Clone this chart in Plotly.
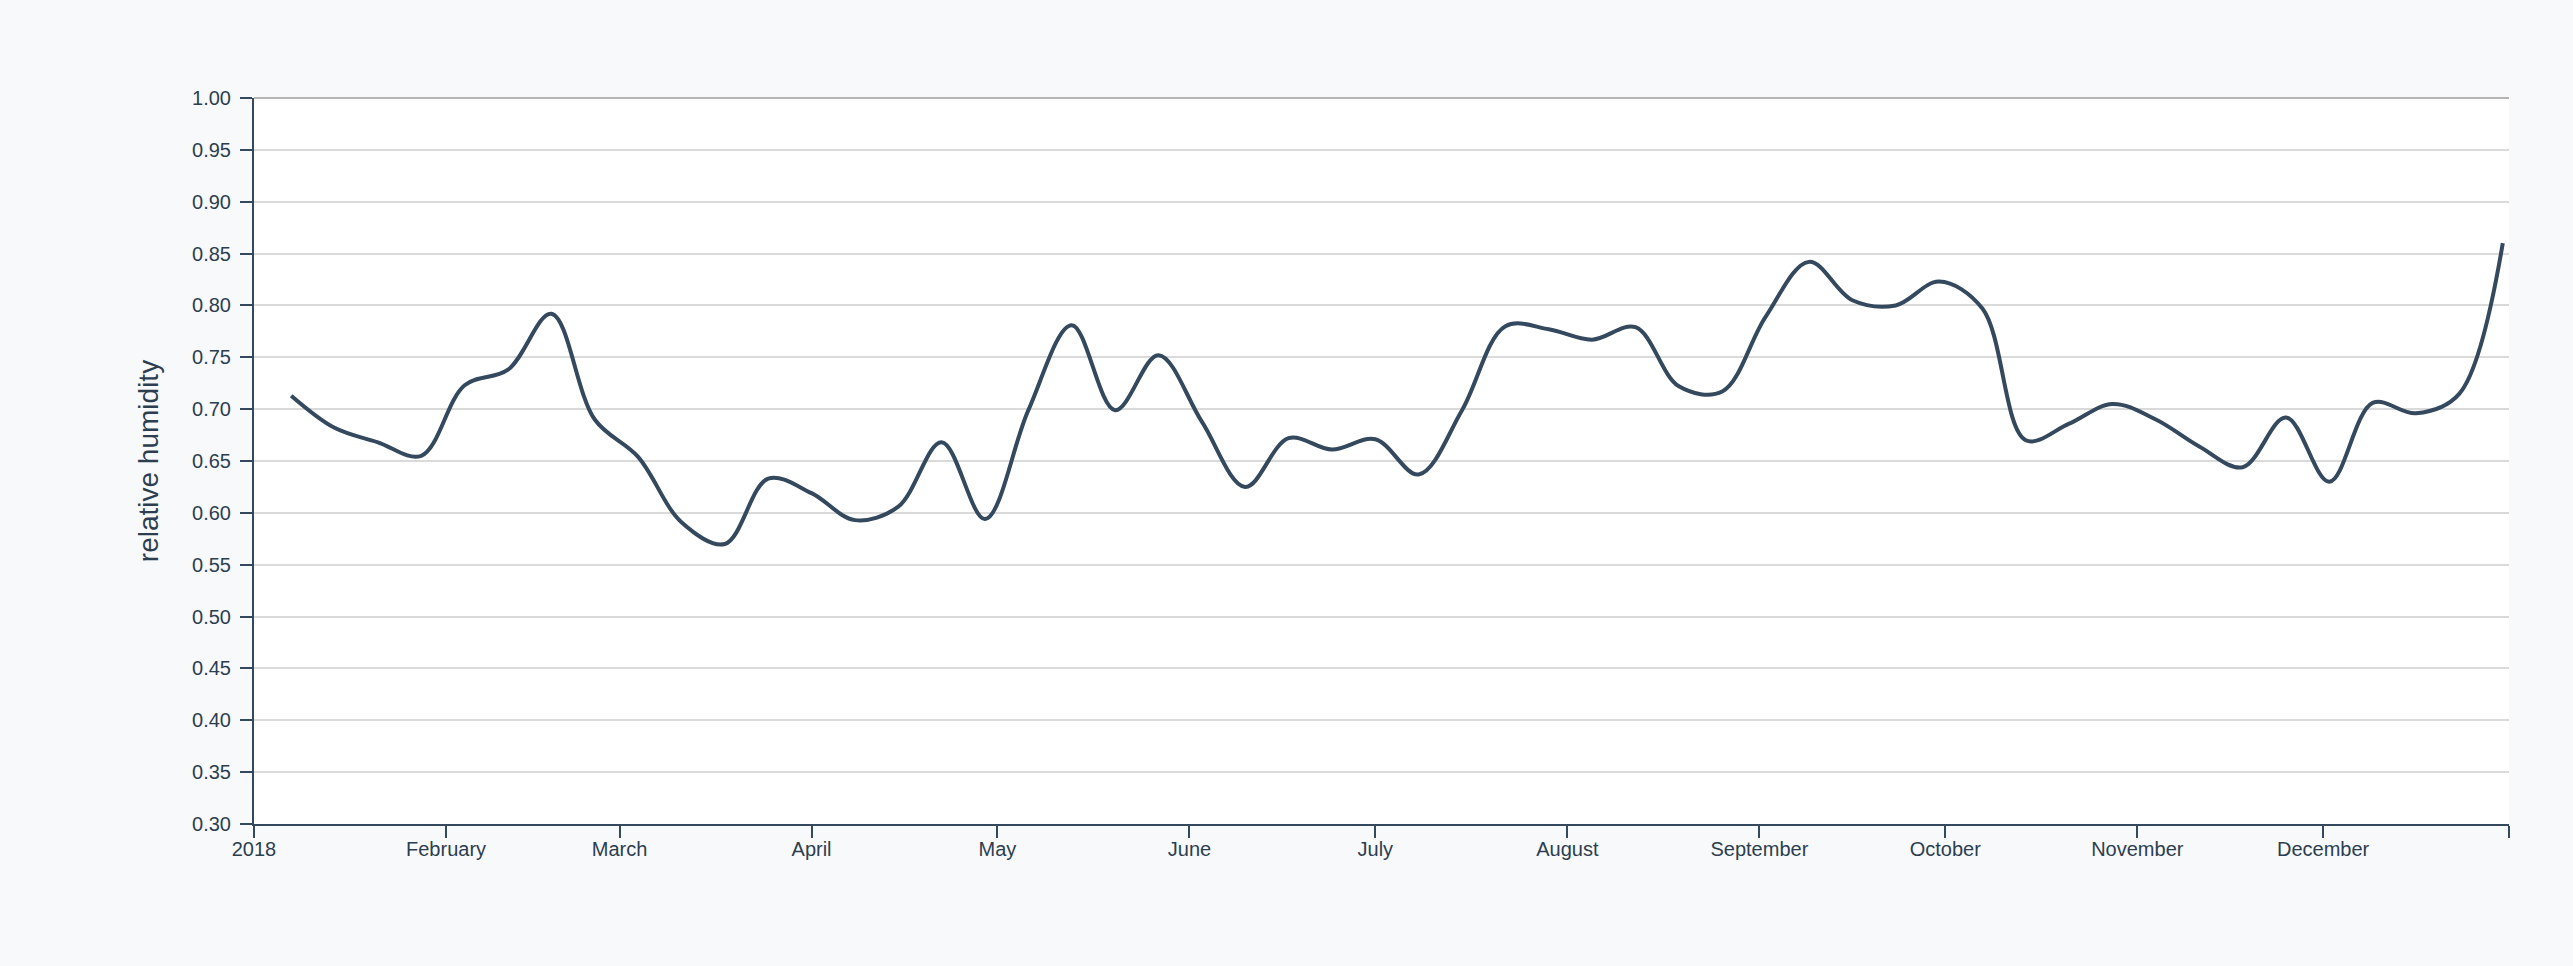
import plotly.graph_objects as go

# weekly relative humidity, 2018
dates = [
    "2018-01-07", "2018-01-14", "2018-01-21", "2018-01-28",
    "2018-02-04", "2018-02-11", "2018-02-18", "2018-02-25",
    "2018-03-04", "2018-03-11", "2018-03-18", "2018-03-25",
    "2018-04-01", "2018-04-08", "2018-04-15", "2018-04-22", "2018-04-29",
    "2018-05-06", "2018-05-13", "2018-05-20", "2018-05-27",
    "2018-06-03", "2018-06-10", "2018-06-17", "2018-06-24",
    "2018-07-01", "2018-07-08", "2018-07-15", "2018-07-22", "2018-07-29",
    "2018-08-05", "2018-08-12", "2018-08-19", "2018-08-26",
    "2018-09-02", "2018-09-09", "2018-09-16", "2018-09-23", "2018-09-30",
    "2018-10-07", "2018-10-14", "2018-10-21", "2018-10-28",
    "2018-11-04", "2018-11-11", "2018-11-18", "2018-11-25",
    "2018-12-02", "2018-12-09", "2018-12-16", "2018-12-23", "2018-12-30",
]
humidity = [
    0.713, 0.682, 0.668, 0.655,
    0.723, 0.738, 0.792, 0.690,
    0.654, 0.591, 0.570, 0.633,
    0.619, 0.593, 0.606, 0.668, 0.594,
    0.699, 0.781, 0.699, 0.752,
    0.688, 0.625, 0.672, 0.661,
    0.671, 0.637, 0.699, 0.780, 0.777,
    0.767, 0.779, 0.722, 0.717,
    0.789, 0.842, 0.805, 0.800, 0.823,
    0.797, 0.670, 0.686, 0.705,
    0.690, 0.664, 0.644, 0.692,
    0.630, 0.706, 0.696, 0.715, 0.860,
]

# month ticks plus an unlabeled end tick at the right edge of the axis
month_ticks = [
    "2018-01-01", "2018-02-01", "2018-03-01", "2018-04-01", "2018-05-01",
    "2018-06-01", "2018-07-01", "2018-08-01", "2018-09-01", "2018-10-01",
    "2018-11-01", "2018-12-01", "2018-12-31",
]
month_labels = [
    "2018", "February", "March", "April", "May", "June", "July",
    "August", "September", "October", "November", "December", "",
]
y_ticks = [0.30, 0.35, 0.40, 0.45, 0.50, 0.55, 0.60, 0.65, 0.70, 0.75,
           0.80, 0.85, 0.90, 0.95, 1.00]

ink = "#34495e"
text_col = "#2c3e50"

fig = go.Figure()
fig.add_trace(go.Scatter(
    x=dates, y=humidity, mode="lines",
    line=dict(color=ink, width=4, shape="spline", smoothing=1.0),
    hoverinfo="x+y", showlegend=False,
))

fig.update_layout(
    width=2573, height=966,
    margin=dict(l=254, r=64, t=98, b=142),
    paper_bgcolor="#f8f9fa",
    plot_bgcolor="#ffffff",
    font=dict(family="Liberation Sans, Arial, sans-serif", size=20, color=text_col),
    shapes=[dict(type="line", xref="paper", yref="paper", x0=0, x1=1, y0=1, y1=1,
                 line=dict(color="#b5b5b5", width=2))],
)
fig.update_xaxes(
    type="date", range=["2018-01-01", "2018-12-31"],
    tickvals=month_ticks, ticktext=month_labels,
    showgrid=False, showline=True, linecolor=ink, linewidth=2,
    ticks="outside", ticklen=12, tickwidth=2, tickcolor=ink,
    tickfont=dict(size=20, color=text_col), ticklabelstandoff=-6,
)
fig.update_yaxes(
    range=[0.3, 1.0], tickvals=y_ticks, tickformat=".2f",
    showgrid=True, gridcolor="#dadada", gridwidth=2,
    zeroline=False, showline=True, linecolor=ink, linewidth=2,
    ticks="outside", ticklen=12, tickwidth=2, tickcolor=ink,
    tickfont=dict(size=20, color=text_col), ticklabelstandoff=5,
    title=dict(text="relative humidity", font=dict(size=28, color=text_col), standoff=25),
)

# drop the browser's default page margin so the figure sits flush
fig.write_html("out.html", config={"displayModeBar": False},
               post_script="document.body.style.margin='0';"
               "document.body.style.background='#f8f9fa';")
